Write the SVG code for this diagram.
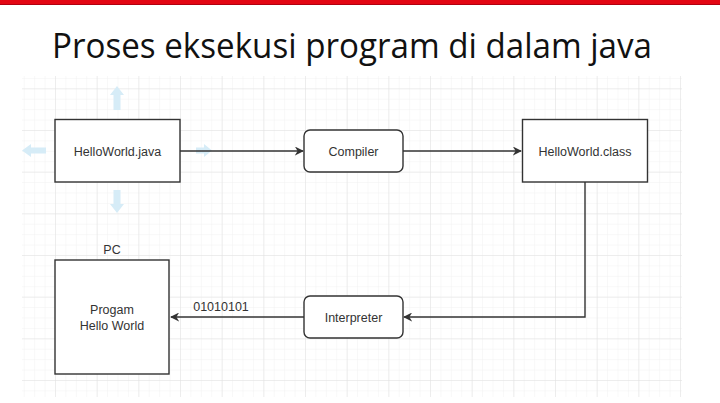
<svg xmlns="http://www.w3.org/2000/svg" width="720" height="403" viewBox="0 0 720 403">
  <defs>
    <style>
      .lbl { font-family: "Liberation Sans", Arial, sans-serif; font-size: 12.5px; fill: #333; text-anchor: middle; }
      .box { fill: #fff; stroke: #333; stroke-width: 1.4; }
      .edge { fill: none; stroke: #333; stroke-width: 1.4; }
      .hint { fill: #d6ecf7; }
    </style>
    <marker id="arr" viewBox="0 0 10 10" refX="9" refY="5" markerWidth="9" markerHeight="9" markerUnits="userSpaceOnUse" orient="auto">
      <path d="M0,0 L10,5 L0,10 L3,5 z" fill="#333"/>
    </marker>
    <pattern id="minor" x="55" y="88.33" width="10.4167" height="10.4167" patternUnits="userSpaceOnUse">
      <path d="M0,0 V10.4167 M0,0 H10.4167" stroke="#f1f1f1" stroke-width="1" fill="none"/>
    </pattern>
    <pattern id="major" x="55" y="88.33" width="41.667" height="41.667" patternUnits="userSpaceOnUse">
      <path d="M0,0 V41.667 M0,0 H41.667" stroke="#e2e2e2" stroke-width="1" fill="none"/>
    </pattern>
  </defs>

  <rect width="720" height="403" fill="#fff"/>
  <rect x="0" y="0" width="720" height="5" fill="#e30613"/>
  <rect x="0" y="4" width="720" height="1" fill="#b00010"/>

  <text x="52" y="57.5" font-family="'Open Sans', 'Noto Sans', sans-serif" font-size="35" fill="#111" textLength="600" lengthAdjust="spacingAndGlyphs">Proses eksekusi program di dalam java</text>

  <g id="grid">
    <rect x="22" y="76" width="660" height="321" fill="url(#minor)"/>
    <rect x="22" y="76" width="660" height="321" fill="url(#major)"/>
  </g>

  <g id="hover-hints">
    <path class="hint" d="M113.5,110 V95 H110 L117,86 L124,95 H120.5 V110 z"/>
    <path class="hint" d="M113.5,190 V204 H110 L117,213 L124,204 H120.5 V190 z"/>
    <path class="hint" d="M46,147.5 H31 V144 L22,150.5 L31,157 V153.5 H46 z"/>
    <path class="hint" d="M196,147.5 H204 V144 L212,150.5 L204,157 V153.5 H196 z"/>
  </g>

  <g id="connectors">
    <path class="edge" d="M180,151 H303" marker-end="url(#arr)"/>
    <path class="edge" d="M403,151 H521" marker-end="url(#arr)"/>
    <path class="edge" d="M585,182 V317 H404" marker-end="url(#arr)"/>
    <path class="edge" d="M304,317 H171" marker-end="url(#arr)"/>
    <text class="lbl" x="221" y="311">01010101</text>
  </g>

  <g id="helloworld-java">
    <rect class="box" x="55" y="119.5" width="125" height="62.5"/>
    <text class="lbl" x="117.5" y="155.5">HelloWorld.java</text>
  </g>

  <g id="compiler">
    <rect class="box" x="304" y="130" width="99" height="42" rx="6" ry="6"/>
    <text class="lbl" x="353.5" y="155.5">Compiler</text>
  </g>

  <g id="helloworld-class">
    <rect class="box" x="522.5" y="119.5" width="125" height="62.5"/>
    <text class="lbl" x="585" y="155.5">HelloWorld.class</text>
  </g>

  <g id="interpreter">
    <rect class="box" x="304" y="296" width="99" height="42" rx="6" ry="6"/>
    <text class="lbl" x="353.5" y="321.5">Interpreter</text>
  </g>

  <g id="pc">
    <text class="lbl" x="112" y="253.5">PC</text>
    <rect class="box" x="55" y="260" width="114" height="114"/>
    <text class="lbl" x="112" y="313.5">Progam</text>
    <text class="lbl" x="112" y="329.5">Hello World</text>
  </g>
</svg>
